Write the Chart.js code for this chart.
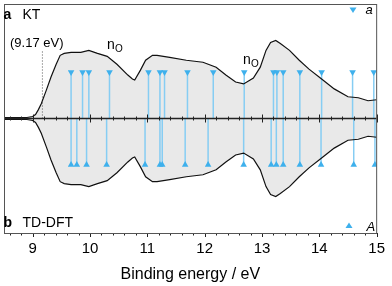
<!DOCTYPE html>
<html>
<head>
<meta charset="utf-8">
<script src="https://cdn.jsdelivr.net/npm/chart.js@4"></script>
<style>
  html, body { margin: 0; padding: 0; background: #fff; }
  #wrap { width: 392px; height: 286px; }
</style>
</head>
<body>
<div id="wrap"><canvas id="spec" width="392" height="286"></canvas></div>
<script>
// Photoelectron band, mirrored for panel b
const energy = [8.5, 8.7, 8.9, 9.0, 9.05, 9.1, 9.15, 9.24, 9.32, 9.41, 9.48, 9.55, 9.67, 9.84, 9.98,
  10.13, 10.3, 10.47, 10.66, 10.74, 10.78, 10.88, 10.97, 11.09, 11.17, 11.39, 11.68, 11.97,
  12.2, 12.37, 12.54, 12.68, 12.85, 12.97, 13.07, 13.15, 13.24, 13.32, 13.48, 13.65, 13.82,
  14.04, 14.26, 14.5, 14.68, 14.85, 15.0];
const intensity = [1, 1, 1, 2, 4, 9, 15, 29, 42, 55, 64, 66, 67, 67, 69,
  66, 63, 55, 44, 40, 39, 49, 59, 64, 64, 62, 59, 57,
  52, 44, 37, 35, 41, 52, 69, 77, 79, 76, 69, 59, 50,
  40, 30, 22, 21, 18, 19];

// calculated ionisation energies (eV)
const ktLines = [9.67, 9.87, 9.98, 10.34, 11.02, 11.22, 11.30, 11.70, 12.15, 12.69,
  13.20, 13.26, 13.37, 13.66, 14.04, 14.58, 14.95];
const tddftLines = [9.67, 9.77, 9.94, 10.29, 10.96, 11.22, 11.26, 11.66, 12.06, 12.68,
  13.16, 13.25, 13.37, 13.66, 14.03, 14.60, 14.97];
const stickHeight = 47;

const onsetEnergy = 9.17;
const onsetHeight = 69;

const tickValues = [9, 10, 11, 12, 13, 14, 15];
const tickLabels = ['9', '10', '11', '12', '13', '14', '15'];

const FONT = '"Liberation Sans", Arial, sans-serif';
const BLUE = '#3eb0ec';
const STICK = '#86cdf3';

function pts(sign) {
  return energy.map((e, i) => ({ x: e, y: sign * intensity[i] }));
}
function sticks(list, sign) {
  const out = [];
  list.forEach(e => {
    out.push({ x: e, y: 0 }, { x: e, y: sign * stickHeight }, { x: e, y: null });
  });
  return out;
}

// frame, centre axis and text
const decor = {
  id: 'decor',
  afterDatasetsDraw(chart) {
    const { ctx, chartArea: a, scales: { x, y } } = chart;
    const y0 = y.getPixelForValue(0);
    ctx.save();
    // centre axis
    ctx.strokeStyle = '#222';
    ctx.lineWidth = 1.3;
    ctx.beginPath();
    ctx.moveTo(a.left, y0); ctx.lineTo(a.right, y0);
    ctx.stroke();
    ctx.lineWidth = 1;
    for (let k = 43; k <= 75; k++) {
      const v = k / 5;
      const px = Math.round(x.getPixelForValue(v)) + 0.5;
      const major = k % 5 === 0;
      const len = major ? 4 : 2;
      ctx.beginPath();
      ctx.moveTo(px, y0 - len); ctx.lineTo(px, y0 + len);
      ctx.stroke();
      // bottom axis ticks
      ctx.beginPath();
      ctx.moveTo(px, a.bottom); ctx.lineTo(px, a.bottom + (major ? 4 : 2.5));
      ctx.stroke();
    }
    // frame
    ctx.strokeStyle = '#555';
    ctx.lineWidth = 1;
    ctx.strokeRect(a.left + 0.5, a.top + 0.5, a.right - a.left - 0.5, a.bottom - a.top);
    ctx.restore();
  },
  afterDraw(chart) {
    const { ctx } = chart;
    ctx.save();
    ctx.fillStyle = '#000';
    ctx.textBaseline = 'alphabetic';
    ctx.textAlign = 'left';
    ctx.font = 'bold 14px ' + FONT;
    ctx.fillText('a', 3.5, 19);
    ctx.fillText('b', 3.5, 227);
    ctx.font = '14px ' + FONT;
    ctx.fillText('KT', 22.5, 19);
    ctx.fillText('TD-DFT', 22.5, 227);
    ctx.font = '13px ' + FONT;
    ctx.fillText('(9.17 eV)', 10, 46.5);
    // n_O labels
    [[107, 49], [243, 63.5]].forEach(([tx, ty]) => {
      ctx.font = '14px ' + FONT;
      ctx.fillText('n', tx, ty);
      ctx.font = '10px ' + FONT;
      ctx.fillText('O', tx + 8, ty + 3);
    });
    // legend
    ctx.fillStyle = BLUE;
    ctx.beginPath();
    ctx.moveTo(349.5, 7.5); ctx.lineTo(356.5, 7.5); ctx.lineTo(353, 13);
    ctx.closePath(); ctx.fill();
    ctx.beginPath();
    ctx.moveTo(345.5, 228); ctx.lineTo(352.5, 228); ctx.lineTo(349, 222.5);
    ctx.closePath(); ctx.fill();
    ctx.fillStyle = '#000';
    ctx.font = 'italic 13px ' + FONT;
    ctx.fillText('a', 365.5, 14);
    ctx.fillText('A', 366.5, 230.5);
    ctx.restore();
  }
};

const ctx = document.getElementById('spec').getContext('2d');
new Chart(ctx, {
  type: 'scatter',
  data: {
    datasets: [
      // outlines on top
      { data: pts(1), showLine: true, borderColor: '#111', borderWidth: 1.2, pointRadius: 0, fill: false, order: 0 },
      { data: pts(-1), showLine: true, borderColor: '#111', borderWidth: 1.2, pointRadius: 0, fill: false, order: 0 },
      // triangles
      { data: ktLines.map(e => ({ x: e, y: stickHeight })), pointStyle: 'triangle', rotation: 180,
        pointRadius: 3.8, backgroundColor: BLUE, borderWidth: 0, order: 1 },
      { data: tddftLines.map(e => ({ x: e, y: -stickHeight })), pointStyle: 'triangle', rotation: 0,
        pointRadius: 3.8, backgroundColor: BLUE, borderWidth: 0, order: 1 },
      // sticks
      { data: sticks(ktLines, 1), showLine: true, spanGaps: false, borderColor: STICK, borderWidth: 1.5, pointRadius: 0, order: 2 },
      { data: sticks(tddftLines, -1), showLine: true, spanGaps: false, borderColor: STICK, borderWidth: 1.5, pointRadius: 0, order: 2 },
      // onset marker
      { data: [{ x: onsetEnergy, y: 0 }, { x: onsetEnergy, y: onsetHeight }], showLine: true,
        borderColor: '#555', borderWidth: 1, borderDash: [1, 2], pointRadius: 0, order: 2 },
      // grey band fill
      { data: pts(1), showLine: true, borderWidth: 0, pointRadius: 0, fill: 'origin', backgroundColor: '#e9e9e9', order: 3 },
      { data: pts(-1), showLine: true, borderWidth: 0, pointRadius: 0, fill: 'origin', backgroundColor: '#e9e9e9', order: 3 }
    ]
  },
  options: {
    responsive: false,
    animation: false,
    events: [],
    layout: { padding: { left: 2, right: 10, top: 1, bottom: 0 } },
    plugins: { legend: { display: false }, tooltip: { enabled: false } },
    scales: {
      x: {
        type: 'linear',
        min: 8.5,
        max: 15,
        afterBuildTicks: s => { s.ticks = tickValues.map(v => ({ value: v })); },
        afterFit: s => { s.height = 53; },
        grid: { display: false, drawTicks: false },
        border: { display: false },
        ticks: {
          padding: 7,
          color: '#000',
          font: { family: FONT, size: 15 },
          maxRotation: 0,
          callback: (v, i) => tickLabels[i]
        },
        title: {
          display: true,
          text: 'Binding energy / eV',
          color: '#000',
          font: { family: FONT, size: 16 },
          padding: { top: 0, bottom: 2 }
        }
      },
      y: {
        display: false,
        min: -116,
        max: 116
      }
    }
  },
  plugins: [decor]
});
</script>
</body>
</html>
